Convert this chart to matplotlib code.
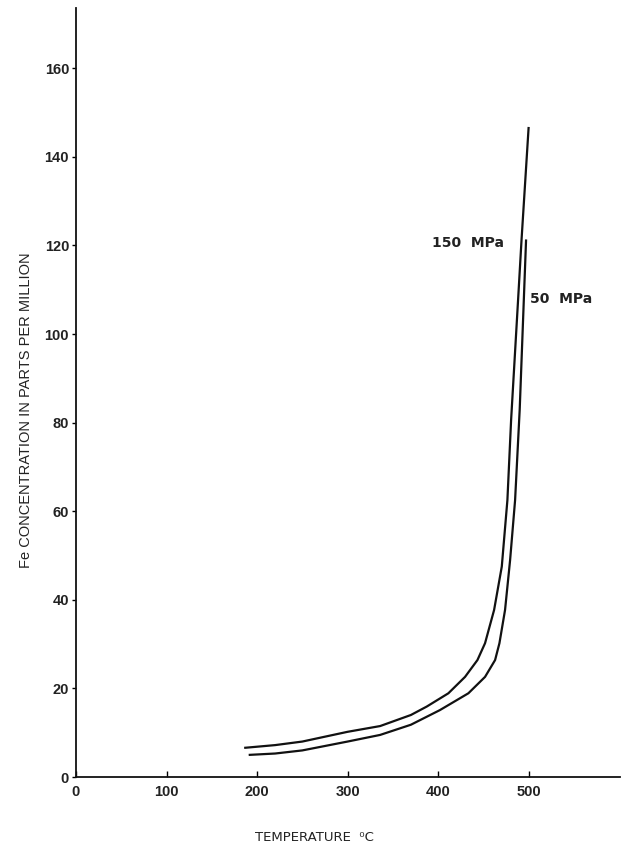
import matplotlib
matplotlib.use("Agg")
import matplotlib.pyplot as plt
from matplotlib import font_manager

# Data
temp_150 = [187, 220, 250, 300, 336, 370, 387.5, 411.4, 429.8, 443.5, 451.9, 461.9, 470.4, 476.6, 480.7, 488.4, 492.2, 500]
fe_150 = [6.6, 7.2, 8.0, 10.2, 11.5, 14.0, 15.9, 18.9, 22.6, 26.4, 30.2, 37.7, 47.5, 62.5, 80.6, 107.7, 121.2, 146.5]

temp_50 = [192, 220, 250, 300, 336, 370, 402, 433.5, 451.9, 463, 467.8, 474, 479.6, 485.1, 490.2, 497.2]
fe_50 = [5.0, 5.3, 6.0, 8.0, 9.5, 11.8, 15.1, 18.9, 22.6, 26.4, 30.2, 37.7, 49.0, 62.5, 83.0, 121.1]

x_ticks = [0, 100, 200, 300, 400, 500]
y_ticks = [0, 20, 40, 60, 80, 100, 120, 140, 160]

names = {f.name for f in font_manager.fontManager.ttflist}
narrow = 'Liberation Sans Narrow' if 'Liberation Sans Narrow' in names else 'Liberation Sans'

plt.rcParams['font.family'] = ['Liberation Sans', 'DejaVu Sans']

fig = plt.figure(figsize=(6.22, 8.46), dpi=100)
ax = fig.add_axes([76/622, 1 - 777/846, (620 - 76)/622, (777 - 8)/846])

ax.plot(temp_150, fe_150, color='#111111', lw=1.6, solid_joinstyle='round')
ax.plot(temp_50, fe_50, color='#111111', lw=1.6, solid_joinstyle='round')

ax.set_xlim(0, 601)
ax.set_ylim(0, 173.6)
ax.spines['top'].set_visible(False)
ax.spines['right'].set_visible(False)
for s in ('left', 'bottom'):
    ax.spines[s].set_linewidth(1.3)
    ax.spines[s].set_color('#111111')

ax.set_xticks(x_ticks)
ax.set_yticks(y_ticks)
ax.tick_params(axis='x', direction='in', length=4, width=1, pad=6, labelsize=10.5)
ax.tick_params(axis='y', direction='out', length=3, width=1, pad=2, labelsize=10.5)
for lab in ax.get_xticklabels() + ax.get_yticklabels():
    lab.set_fontweight('bold')
    lab.set_color('#222222')

ax.set_xlabel('TEMPERATURE  \u2070C', fontsize=9.5, color='#222222', family='DejaVu Sans')
ax.xaxis.set_label_coords((314 - 76) / 544, -(831 - 777) / 769)
ax.set_ylabel('Fe CONCENTRATION IN PARTS PER MILLION', fontsize=10.5, color='#222222',
              family=narrow)
ax.yaxis.set_label_coords((33 - 76) / 544, (777 - 410.5) / 769)

ax.text((432 - 76) / 0.905, (777 - 243) / 4.43, '150  MPa', fontsize=10, fontweight='bold',
        color='#222222', ha='left', va='center', family='DejaVu Sans')
ax.text((530 - 76) / 0.905, (777 - 299) / 4.43, '50  MPa', fontsize=10, fontweight='bold',
        color='#222222', ha='left', va='center', family='DejaVu Sans')

fig.savefig('out.png', dpi=100, facecolor='white')
